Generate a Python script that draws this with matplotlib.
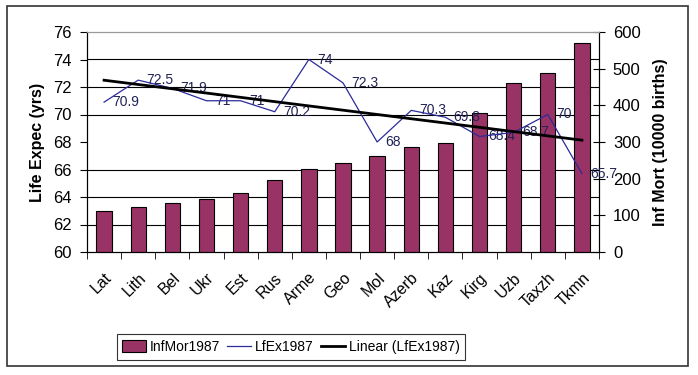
import numpy as np
import matplotlib
matplotlib.use("Agg")
import matplotlib.pyplot as plt
from matplotlib.patches import Rectangle

plt.rcParams['font.family'] = ['Liberation Sans', 'DejaVu Sans']

# data
countries = ['Lat', 'Lith', 'Bel', 'Ukr', 'Est', 'Rus', 'Arme', 'Geo', 'Mol',
             'Azerb', 'Kaz', 'Kirg', 'Uzb', 'Taxzh', 'Tkmn']
inf_mort = [113, 123, 134, 144, 162, 196, 226, 244, 262, 286, 298, 380, 461, 489, 569]
life_exp = [70.9, 72.5, 71.9, 71, 71, 70.2, 74, 72.3, 68, 70.3, 69.8, 68.4, 68.7, 70, 65.7]
life_labels = ['70.9', '72.5', '71.9', '71', '71', '70.2', '74', '72.3', '68', '70.3',
               '69.8', '68.4', '68.7', '70', '65.7']

x = np.arange(len(countries))

fig = plt.figure(figsize=(6.98, 3.75), dpi=100)
ax = fig.add_axes([87/698, 1-252/375, (599-87)/698, 220/375])
ax2 = ax.twinx()
ax.set_zorder(ax2.get_zorder() + 1)
ax.patch.set_visible(False)

# bars on right axis
ax2.bar(x, inf_mort, width=0.45, color='#993366', edgecolor='black', linewidth=0.8,
        label='InfMor1987', zorder=3)
ax2.set_ylim(0, 600)
ax2.set_yticks(range(0, 601, 100))
ax2.set_yticks(np.linspace(0, 600, 9), minor=True)
ax2.grid(which='minor', axis='y', color='black', linewidth=0.8, zorder=0)
ax2.tick_params(axis='y', which='major', direction='inout', length=8, labelsize=12, pad=6)
ax2.tick_params(axis='y', which='minor', length=0)
ax2.set_ylabel('Inf Mort (10000 births)', fontsize=11.5, fontweight='bold', labelpad=9)

# life expectancy line + trend on left axis
ax.plot(x, life_exp, color='#2b2b9a', linewidth=0.9, label='LfEx1987', zorder=4)
coef = np.polyfit(x, life_exp, 1)
ax.plot(x, np.polyval(coef, x), color='black', linewidth=2, label='Linear (LfEx1987)', zorder=5)
for xi, yi, lab in zip(x, life_exp, life_labels):
    ax.annotate(lab, (xi, yi), xytext=(6, 0), textcoords='offset points',
                ha='left', va='center', fontsize=10, color='#222255')

ax.set_ylim(60, 76)
ax.set_yticks(range(60, 77, 2))
ax.set_xlim(-0.5, len(countries) - 0.5)
ax.set_xticks(x)
ax.set_xticklabels(countries, rotation=45, ha='right', rotation_mode='anchor', fontsize=11.5)
ax.set_xticks(np.arange(-0.5, len(countries), 1), minor=True)
ax.tick_params(axis='x', which='major', length=0, pad=13)
ax.tick_params(axis='x', which='minor', length=5, direction='out')
ax.tick_params(axis='y', direction='out', length=5, labelsize=12, pad=6)
ax.set_ylabel('Life Expec (yrs)', fontsize=11.5, fontweight='bold', labelpad=6)

for a in (ax, ax2):
    a.spines['top'].set_color('#999999')
    for s in ('left', 'right', 'bottom'):
        a.spines[s].set_color('black')

# legend
h2, l2 = ax2.get_legend_handles_labels()
h1, l1 = ax.get_legend_handles_labels()
leg = fig.legend(h2 + h1, l2 + l1, loc='center', bbox_to_anchor=(291/698, 1-347/375),
                 ncol=3, fontsize=10, frameon=True, fancybox=False, edgecolor='black',
                 handlelength=1.7, handletextpad=0.3, columnspacing=0.5,
                 borderpad=0.4, handleheight=0.9)
leg.get_frame().set_linewidth(0.8)

# chart area border
fig.patches.append(Rectangle((7/698, 1-366/375), (688-7)/698, (366-6)/375,
                             transform=fig.transFigure, fill=False,
                             edgecolor='#333333', linewidth=1.2))

fig.savefig('out.png', dpi=100)
